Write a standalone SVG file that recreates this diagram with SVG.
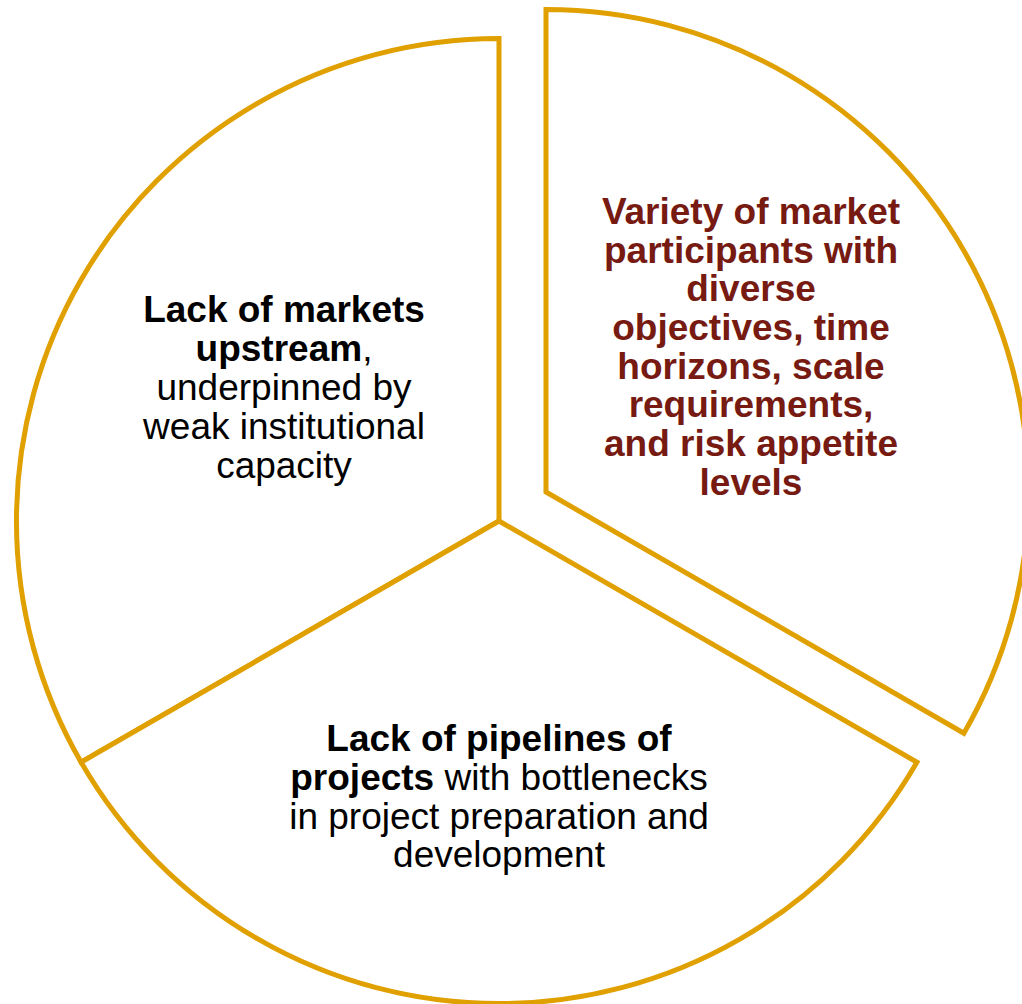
<svg xmlns="http://www.w3.org/2000/svg" width="1022" height="1004" viewBox="0 0 1022 1004">
<style>
.slice{fill:#FFFFFF;stroke:#E0A000;stroke-width:5;stroke-linejoin:miter}
.t{font-family:"Liberation Sans",Arial,sans-serif;font-size:37px;text-anchor:middle;fill:#000}
.b{font-weight:bold}
.red{fill:#761A12;font-weight:bold}
</style>
<rect width="1022" height="1004" fill="#FFFFFF"/>
<g id="slice-left">
<path class="slice" d="M499,521 L499,38.5 A482.5,482.5 0 0 0 81.1,762.25 Z"/>
<text class="t" x="284" y="322"><tspan class="b">Lack of markets</tspan></text>
<text class="t" x="284" y="361"><tspan class="b">upstream</tspan>,</text>
<text class="t" x="284" y="400">underpinned by</text>
<text class="t" x="284" y="439">weak institutional</text>
<text class="t" x="284" y="478">capacity</text>
</g>
<g id="slice-bottom">
<path class="slice" d="M499,521 L81.1,762.25 A482.5,482.5 0 0 0 916.9,762.25 Z"/>
<text class="t" x="499" y="751"><tspan class="b">Lack of pipelines of</tspan></text>
<text class="t" x="499" y="790"><tspan class="b">projects</tspan> with bottlenecks</text>
<text class="t" x="499" y="828.5">in project preparation and</text>
<text class="t" x="499" y="867">development</text>
</g>
<g id="slice-right">
<path class="slice" d="M546,492 L546,9.5 A482.5,482.5 0 0 1 963.9,733.25 Z"/>
<text class="t red" x="751" y="224">Variety of market</text>
<text class="t red" x="751" y="262.7">participants with</text>
<text class="t red" x="751" y="301.4">diverse</text>
<text class="t red" x="751" y="340">objectives, time</text>
<text class="t red" x="751" y="378.7">horizons, scale</text>
<text class="t red" x="751" y="417.4">requirements,</text>
<text class="t red" x="751" y="456">and risk appetite</text>
<text class="t red" x="751" y="494.7">levels</text>
</g>
<g id="connectors"></g>
</svg>
